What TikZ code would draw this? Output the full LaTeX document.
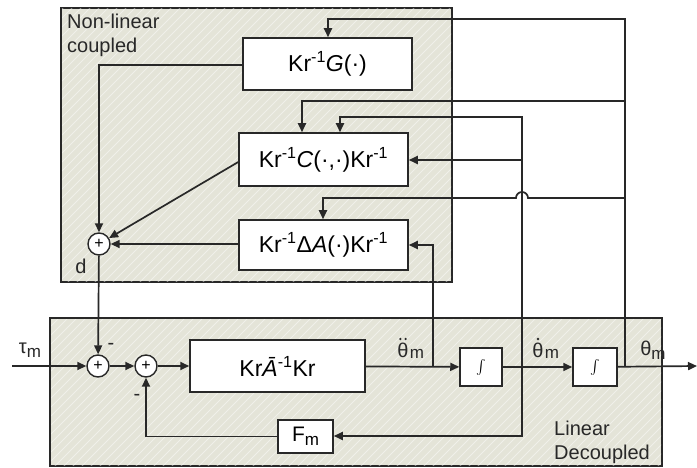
\documentclass[tikz,border=0pt]{standalone}
\usepackage{amsmath}
\usepackage{fontspec}
\setmainfont{Liberation Sans}
\usetikzlibrary{arrows.meta,calc}
\definecolor{bg}{RGB}{228,228,216}
\definecolor{ln}{RGB}{40,40,40}
\tikzset{
  container/.style={draw=ln,line width=1.5pt,fill=bg},
  blk/.style={draw=ln,line width=1.5pt,fill=white,rectangle,inner sep=0pt,
    font=\fontsize{23}{26}\selectfont},
  sumnode/.style={draw=ln,line width=1.4pt,fill=white,circle,minimum size=22pt,inner sep=0pt,
    font=\fontsize{16}{16}\selectfont},
  wire/.style={draw=ln,line width=1.7pt},
  arr/.style={wire,-{Triangle[length=9pt,width=8pt]}},
  lbl/.style={font=\fontsize{20}{24}\selectfont,text=ln,inner sep=0pt},
  sublbl/.style={font=\fontsize{17}{17}\selectfont,text=ln,inner sep=0pt},
}
\newcommand{\mysub}{\raisebox{-0.35ex}{\fontsize{17}{17}\selectfont m}}
\begin{document}
\begin{tikzpicture}[x=1pt,y=-1pt]
\useasboundingbox (0,0) rectangle (697,468);
\fill[white] (0,0) rectangle (697,468);
% containers
\draw[container] (61,8) rectangle (452,282);
\draw[container] (50,318) rectangle (662,466);
\begin{scope}
\clip (62,9) rectangle (451,281);
\foreach \i in {-480,-471,...,700}{\draw[white,opacity=0.45,line width=0.8pt] (\i,470) -- (\i+470,0);}
\end{scope}
\begin{scope}
\clip (51,319) rectangle (661,465);
\foreach \i in {-480,-471,...,700}{\draw[white,opacity=0.45,line width=0.8pt] (\i,470) -- (\i+470,0);}
\end{scope}
% blocks
\node[blk,minimum width=169pt,minimum height=52pt] (G) at (327.5,64) {Kr\textsuperscript{-1}\textit{G}(·)};
\node[blk,minimum width=169pt,minimum height=53pt] (C) at (323.5,159.5) {Kr\textsuperscript{-1}\textit{C}(·,·)Kr\textsuperscript{-1}};
\node[blk,minimum width=169pt,minimum height=50pt] (DA) at (323.5,245) {Kr\textsuperscript{-1}Δ\textit{A}(·)Kr\textsuperscript{-1}};
\node[blk,minimum width=175pt,minimum height=52pt] (KA) at (277.5,366) {Kr\textit{\=A}\textsuperscript{-1}Kr};
\node[blk,minimum width=55pt,minimum height=33pt,font=\fontsize{21}{24}\selectfont] (Fm) at (305.5,436.5) {F\mysub};
\node[blk,minimum width=42pt,minimum height=38pt,font=\fontsize{15}{16}\selectfont] (I1) at (481,367) {$\int$};
\node[blk,minimum width=44pt,minimum height=38pt,font=\fontsize{15}{16}\selectfont] (I2) at (595,367) {$\int$};
% sums
\node[sumnode] (sd) at (99,244) {+};
\node[sumnode] (s1) at (98,366) {+};
\node[sumnode] (s2) at (146,366) {+};
% coordinates
\coordinate (in) at (12,366);
\coordinate (out) at (697,366);
\coordinate (b1) at (433,366);
\coordinate (b2) at (522,366);
\coordinate (b3) at (625,366);
% main path
\draw[arr] (in) -- (s1);
\draw[arr] (s1) -- (s2);
\draw[arr] (s2) -- (KA);
\draw[arr] (KA) -- (I1);
\draw[arr] (I1) -- (I2);
\draw[arr] (I2) -- (out);
% nonlinear to d
\draw[arr] (G.west |- 0,65) -- (99,65) -- (sd);
\draw[arr] (C.west |- 0,162) -- (sd);
\draw[arr] (DA.west |- sd) -- (sd);
\draw[arr] (sd) -- (s1);
\draw[arr] (Fm.west) -| (s2);
% theta ddot branch
\draw[arr] (b1) -- (b1 |- DA.east) -- (DA.east);
% theta dot branch
\draw[arr] (b2) -- (522,117) -| (C.north -| 340,0);
\draw[arr] (522,160) -- (C.east |- 0,160);
\draw[arr] (b2) -- (522,436) -- (Fm.east |- 0,436);
% theta branch
\draw[arr] (b3) -- (625,19) -| (G.north -| 328,0);
\draw[arr] (625,101) -| (C.north -| 302,0);
\draw[arr] (625,198) -- (528,198) arc (0:-180:6) -| (DA.north -| 323,0);
% labels
\node[lbl,anchor=north west,align=left] (nl) at (67,14) {Non-linear\\coupled};
\node[lbl,anchor=north west,align=left] (ld) at (554,421) {Linear\\Decoupled};
\node[lbl] (dl) at (81,266) {d};
\node[lbl] (ml1) at (111,346) {-};
\node[lbl] (ml2) at (137,397) {-};
\node[lbl] (tau) at (30,350) {τ\mysub};
\node[lbl] (thdd) at (403,350) {θ};
\node[sublbl,anchor=west] (thddm) at ($(thdd.east)+(1,4)$) {m};
\fill[ln] ($(thdd.north)+(-2.6,-3.5)$) circle (1.3);
\fill[ln] ($(thdd.north)+(2.6,-3.5)$) circle (1.3);
\node[lbl] (thd) at (538,350) {θ};
\node[sublbl,anchor=west] (thdm) at ($(thd.east)+(1,4)$) {m};
\fill[ln] ($(thd.north)+(0,-3.5)$) circle (1.3);
\node[lbl] (th) at (653,350) {θ\mysub};
\end{tikzpicture}
\end{document}
